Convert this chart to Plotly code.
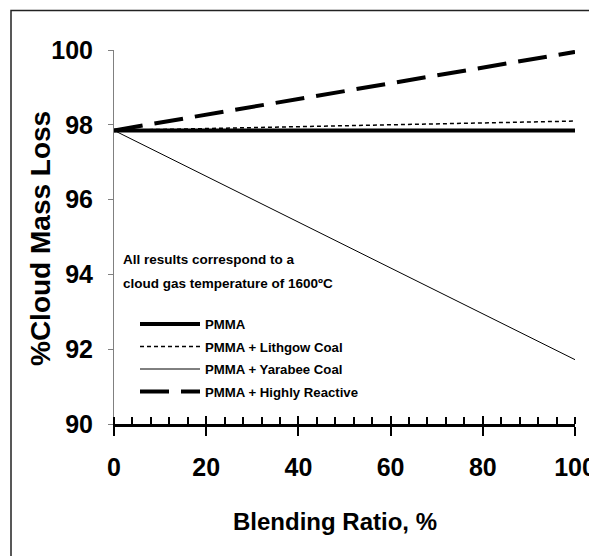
import plotly.graph_objects as go

# ---- data ----
blend = [0, 20, 40, 60, 80, 100]
pmma = [97.85, 97.85, 97.85, 97.85, 97.85, 97.85]
lithgow = [97.85, 97.91, 97.95, 98.00, 98.05, 98.10]
yarabee = [97.85, 96.62, 95.40, 94.17, 92.95, 91.72]
reactive = [97.85, 98.27, 98.69, 99.11, 99.53, 99.95]

series_names = ["PMMA", "PMMA + Lithgow Coal", "PMMA + Yarabee Coal", "PMMA + Highly Reactive"]
y_ticks = [90, 92, 94, 96, 98, 100]
x_ticks = [0, 20, 40, 60, 80, 100]

FONT = "Liberation Sans, Arial, sans-serif"

fig = go.Figure()
styles = [
    dict(color="black", width=4, dash="solid"),
    dict(color="black", width=1.5, dash="4px,3px"),
    dict(color="black", width=1, dash="solid"),
    dict(color="black", width=4, dash="29px,12px"),
]
for name, ys, st, g in zip(series_names, [pmma, lithgow, yarabee, reactive], styles, "abcd"):
    fig.add_trace(go.Scatter(x=blend, y=ys, mode="lines", name=name, line=st,
                             legendgroup=g))

# invisible helper trace so the overlay axis (ticks above the line) is drawn
fig.add_trace(go.Scatter(x=blend, y=pmma, xaxis="x2", mode="lines",
                         line=dict(width=0), opacity=0, showlegend=False, hoverinfo="skip"))

OFF = 8  # page body margin of the browser
W, H = 597 - OFF, 556 - OFF
# plot area in screen pixels: x 114..575, y 50..424
SL, SR, ST, SB = 114, 575, 50, 424
L, T = SL - OFF, ST - OFF
R, B = W - (SR - OFF), H - (SB - OFF)
pw, ph = SR - SL, SB - ST

def px_x(p):
    return (p - SL) / pw

def px_y(p):
    return (SB - p) / ph

fig.update_layout(
    width=W, height=H,
    margin=dict(l=L, r=R, t=T, b=B, autoexpand=False),
    paper_bgcolor="white", plot_bgcolor="white",
    font=dict(family=FONT, color="black"),
    showlegend=True,
    legend=dict(x=px_x(135), y=px_y(309), xanchor="left", yanchor="top",
                bgcolor="rgba(0,0,0,0)", itemwidth=60, tracegroupgap=2.3,
                font=dict(family=FONT, size=13.2, weight="bold", color="black")),
    xaxis=dict(range=[0, 100], tickvals=x_ticks, showgrid=False, zeroline=False,
               showline=True, linecolor="black", linewidth=3,
               ticks="outside", ticklen=9, tickwidth=2, tickcolor="black",
               minor=dict(dtick=4, ticks="inside", ticklen=7, tickwidth=1.5, tickcolor="black"),
               ticklabelstandoff=10,
               tickfont=dict(family=FONT, size=25, weight="bold", color="black")),
    xaxis2=dict(range=[0, 100], overlaying="x", matches="x", anchor="y", side="bottom",
                tickvals=x_ticks, showgrid=False, zeroline=False, showline=False,
                ticks="inside", ticklen=8, tickwidth=2, tickcolor="black",
                showticklabels=False),
    yaxis=dict(range=[90, 100], tickvals=y_ticks, showgrid=False, zeroline=False,
               showline=True, linecolor="#808080", linewidth=1,
               ticks="outside", ticklen=5, tickwidth=1, tickcolor="#808080",
               ticklabelstandoff=10,
               tickfont=dict(family=FONT, size=25, weight="bold", color="black")),
    shapes=[dict(type="rect", xref="paper", yref="paper",
                 x0=px_x(11), x1=px_x(640), y0=px_y(600), y1=px_y(10.5),
                 line=dict(color="#222", width=1.5), fillcolor="rgba(0,0,0,0)", layer="below")],
    annotations=[
        dict(text="Blending Ratio, %", xref="paper", yref="paper",
             x=px_x(335), y=px_y(521), xanchor="center", yanchor="middle", showarrow=False,
             font=dict(family=FONT, size=24, weight="bold", color="black")),
        dict(text="%Cloud Mass Loss", xref="paper", yref="paper", textangle=-90,
             x=px_x(40), y=px_y(239), xanchor="center", yanchor="middle", showarrow=False,
             font=dict(family=FONT, size=28, weight="bold", color="black")),
        dict(text="All results correspond to a",
             xref="paper", yref="paper", x=px_x(121), y=px_y(259), xanchor="left",
             yanchor="middle", align="left", showarrow=False,
             font=dict(family=FONT, size=13.5, weight="bold", color="black")),
        dict(text="cloud gas temperature of 1600ºC",
             xref="paper", yref="paper", x=px_x(121), y=px_y(283), xanchor="left",
             yanchor="middle", align="left", showarrow=False,
             font=dict(family=FONT, size=13.5, weight="bold", color="black")),
    ],
)

fig.write_html("out.html")
